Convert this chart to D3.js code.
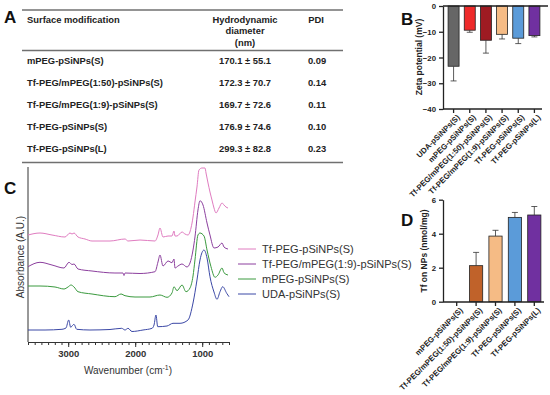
<!DOCTYPE html>
<html><head><meta charset="utf-8">
<script src="https://cdn.jsdelivr.net/npm/d3@7"></script>
<style>body{margin:0;background:#fff;} svg{display:block;font-family:Arial,"Liberation Sans",sans-serif;}</style>
</head><body><svg id="c" width="550" height="395"></svg>
<script>
// ---------- Panel A: table ----------
const surfaceMods = ["mPEG-pSiNPs(S)","Tf-PEG/mPEG(1:50)-pSiNPs(S)","Tf-PEG/mPEG(1:9)-pSiNPs(S)","Tf-PEG-pSiNPs(S)","Tf-PEG-pSiNPs(L)"];
const diamMean = ["170.1","172.3","169.7","176.9","299.3"];
const diamSD = ["55.1","70.7","72.6","74.6","82.8"];
const pdiValues = ["0.09","0.14","0.11","0.10","0.23"];

// ---------- Panel B: zeta potential ----------
const zetaCats = ["UDA-pSiNPs(S)","mPEG-pSiNPs(S)","Tf-PEG/mPEG(1:50)-pSiNPs(S)","Tf-PEG/mPEG(1:9)-pSiNPs(S)","Tf-PEG-pSiNPs(S)","Tf-PEG-pSiNPs(L)"];
const zetaMean = [-23.4, -9.4, -13.3, -11.0, -12.5, -11.5];
const zetaSD = [5.7, 0.8, 5.0, 1.8, 2.1, 0.5];
const zetaColors = ["#666666","#ee2a2a","#9e1b22","#f5bb85","#5b9bd9","#7030a0"];
const zetaTicks = [0,-10,-20,-30,-40];

// ---------- Panel D: Tf on NPs ----------
const tfCats = ["mPEG-pSiNPs(S)","Tf-PEG/mPEG(1:50)-pSiNPs(S)","Tf-PEG/mPEG(1:9)-pSiNPs(S)","Tf-PEG-pSiNPs(S)","Tf-PEG-pSiNPs(L)"];
const tfMean = [0, 2.12, 3.86, 4.96, 5.1];
const tfSD = [0, 0.78, 0.34, 0.29, 0.5];
const tfColors = ["#ee2a2a","#c0622a","#f5bb85","#5b9bd9","#7030a0"];
const tfTicks = [0,2,4,6];

// ---------- Panel C: FTIR spectra [wavenumber, absorbance A.U.] ----------
const specTfPEG = [[3600,1.07],[3421,1.09],[3242,1.07],[3048,1.05],[2973,1.09],[2943,1.08],[2913,1.09],[2854,1.05],[2749,1.03],[2645,1.01],[2376,1.01],[2152,1.03],[2107,1.01],[1928,1.02],[1704,1.01],[1660,1.07],[1630,1.14],[1585,1.05],[1510,1.06],[1451,1.06],[1421,1.11],[1406,1.06],[1376,1.06],[1301,1.10],[1257,1.08],[1212,1.07],[1167,1.14],[1137,1.25],[1108,1.40],[1078,1.55],[1048,1.72],[1003,1.74],[958,1.74],[943,1.69],[913,1.59],[884,1.50],[854,1.42],[824,1.34],[794,1.29],[749,1.34],[704,1.39],[675,1.37],[645,1.35],[615,1.34]];
const specTfmPEG19 = [[3600,0.753],[3421,0.797],[3242,0.77],[3063,0.74],[2988,0.797],[2943,0.775],[2913,0.78],[2854,0.73],[2645,0.71],[2302,0.69],[2182,0.69],[2167,0.665],[2152,0.69],[1928,0.685],[1704,0.703],[1660,0.80],[1630,0.87],[1585,0.76],[1510,0.81],[1451,0.793],[1421,0.83],[1406,0.74],[1361,0.76],[1301,0.78],[1227,0.75],[1182,0.79],[1137,0.92],[1108,1.05],[1063,1.32],[1033,1.413],[988,1.37],[928,1.19],[884,1.07],[824,0.94],[764,0.95],[704,0.99],[675,0.95],[615,0.93]];
const specMPEG = [[3600,0.56],[3421,0.56],[3197,0.55],[3063,0.53],[3003,0.55],[2958,0.57],[2913,0.55],[2854,0.503],[2645,0.48],[2302,0.453],[2212,0.48],[2152,0.463],[2003,0.45],[1779,0.45],[1630,0.47],[1525,0.447],[1451,0.49],[1421,0.553],[1376,0.513],[1301,0.57],[1242,0.503],[1182,0.54],[1137,0.66],[1108,0.82],[1063,1.07],[1033,1.09],[973,1.06],[928,0.92],[869,0.753],[809,0.647],[764,0.67],[704,0.74],[675,0.693],[615,0.67]];
const specUDA = [[3600,0.12],[3346,0.12],[3093,0.127],[3033,0.14],[2993,0.22],[2963,0.147],[2943,0.16],[2913,0.177],[2873,0.127],[2675,0.12],[2376,0.125],[2202,0.137],[2152,0.12],[2107,0.137],[2048,0.105],[1884,0.12],[1749,0.137],[1719,0.17],[1690,0.27],[1664,0.153],[1525,0.16],[1436,0.187],[1331,0.187],[1212,0.22],[1137,0.39],[1078,0.62],[1033,0.82],[973,0.92],[928,0.84],[884,0.653],[824,0.50],[779,0.427],[734,0.503],[694,0.553],[634,0.487],[600,0.453]];
const specNames = ["Tf-PEG-pSiNPs(S)","Tf-PEG/mPEG(1:9)-pSiNPs(S)","mPEG-pSiNPs(S)","UDA-pSiNPs(S)"];
const specColors = ["#e07cc0","#8c3f9e","#3a9a3e","#3b48a6"];
const irTicks = [3000,2000,1000];

const svg = d3.select("#c");
svg.append("rect").attr("width",550).attr("height",395).attr("fill","#fff");
const FF = "Arial,'Liberation Sans',sans-serif";

function panelLabel(t,x,y){
  svg.append("text").attr("x",x).attr("y",y).attr("font-size",17).attr("font-weight","bold").attr("fill","#111").text(t);
}

// ===== A =====
panelLabel("A",4,23);
const tA = svg.append("g").attr("font-size",9.4).attr("font-weight","bold").attr("fill","#222");
[10,50.5,162.5].forEach(y=>tA.append("line").attr("x1",22).attr("x2",343).attr("y1",y).attr("y2",y).attr("stroke","#707070").attr("stroke-width",1.5));
tA.append("text").attr("x",27).attr("y",22.5).text("Surface modification");
["Hydrodynamic","diameter","(nm)"].forEach((s,i)=>tA.append("text").attr("x",245).attr("y",22.5+i*11.5).attr("text-anchor","middle").text(s));
tA.append("text").attr("x",316).attr("y",22.5).attr("text-anchor","middle").text("PDI");
const rowY = d3.scalePoint().domain(surfaceMods).range([63.5,152]);
surfaceMods.forEach((m,i)=>{
  tA.append("text").attr("x",27).attr("y",rowY(m)).text(m);
  tA.append("text").attr("x",245).attr("y",rowY(m)).attr("text-anchor","middle").text(diamMean[i]+" \u00b1 "+diamSD[i]);
  tA.append("text").attr("x",317).attr("y",rowY(m)).attr("text-anchor","middle").text(pdiValues[i]);
});

function styleAxis(a){
  a.selectAll("path,line").attr("stroke","#222").attr("stroke-width",1.3);
  a.selectAll("text").attr("font-size",7.8).attr("font-weight","bold").attr("fill","#222").attr("font-family",FF);
}
function rotateLabels(a){
  a.selectAll("text").attr("text-anchor","end").attr("transform","translate(3,3) rotate(-45)").attr("dy","0.35em").attr("dx","-0.2em").attr("y",4);
}

// ===== B =====
panelLabel("B",401,25);
const xB = d3.scaleBand().domain(zetaCats).range([445.5,542.5]).paddingInner(0.32).paddingOuter(0.16);
const yB = d3.scaleLinear().domain([-40,0]).range([109,6]);
const gB = svg.append("g");
gB.selectAll("rect.bar").data(zetaCats).join("rect")
  .attr("x",d=>xB(d)).attr("width",xB.bandwidth())
  .attr("y",yB(0)).attr("height",(d,i)=>yB(zetaMean[i])-yB(0))
  .attr("fill",(d,i)=>zetaColors[i]).attr("stroke","#222").attr("stroke-width",0.8);
zetaCats.forEach((d,i)=>{
  const cx = xB(d)+xB.bandwidth()/2;
  gB.append("line").attr("x1",cx).attr("x2",cx).attr("y1",yB(zetaMean[i])).attr("y2",yB(zetaMean[i]-zetaSD[i])).attr("stroke","#333").attr("stroke-width",0.8);
  gB.append("line").attr("x1",cx-3).attr("x2",cx+3).attr("y1",yB(zetaMean[i]-zetaSD[i])).attr("y2",yB(zetaMean[i]-zetaSD[i])).attr("stroke","#333").attr("stroke-width",0.8);
});
gB.append("line").attr("x1",443).attr("x2",548).attr("y1",yB(0)).attr("y2",yB(0)).attr("stroke","#222").attr("stroke-width",1.3);
const axBy = gB.append("g").attr("transform","translate(443,0)").call(d3.axisLeft(yB).tickValues(zetaTicks).tickSize(4).tickSizeOuter(0).tickFormat(d3.format("d")));
const axBx = gB.append("g").attr("transform","translate(0,109)").call(d3.axisBottom(xB).tickSize(4).tickSizeOuter(0));
axBx.select(".domain").attr("d","M443,0H542");
styleAxis(axBy); styleAxis(axBx); rotateLabels(axBx);
gB.append("text").attr("transform","translate(422,57) rotate(-90)").attr("text-anchor","middle").attr("font-size",8.5).attr("font-weight","bold").attr("fill","#222").text("Zeta potential (mV)");

// ===== C =====
panelLabel("C",4,194);
const xC = d3.scaleLinear().domain([3600,600]).range([28,229]);
const yC = d3.scaleLinear().domain([0,1.75]).range([342,167]);
const gC = svg.append("g");
gC.append("line").attr("x1",28).attr("x2",28).attr("y1",167).attr("y2",342).attr("stroke","#333").attr("stroke-width",1);
const minorC = d3.range(3600,599,-100);
gC.append("g").attr("transform","translate(0,342)").call(d3.axisBottom(xC).tickValues(minorC).tickSize(3).tickFormat("").tickSizeOuter(0))
  .call(g=>g.selectAll("path,line").attr("stroke","#333"));
const axC = gC.append("g").attr("transform","translate(0,342)").call(d3.axisBottom(xC).tickValues(irTicks).tickSize(5).tickFormat(d3.format("d")).tickSizeOuter(0));
axC.selectAll("path,line").attr("stroke","#333");
axC.selectAll("text").attr("font-size",9.5).attr("font-weight","bold").attr("fill","#333").attr("font-family",FF).attr("y",8);
const xl = gC.append("text").attr("x",128).attr("y",374).attr("text-anchor","middle").attr("font-size",10).attr("fill","#333");
xl.append("tspan").text("Wavenumber (cm");
xl.append("tspan").attr("dy",-4).attr("font-size",7).text("-1");
xl.append("tspan").attr("dy",4).text(")");
gC.append("text").attr("transform","translate(24,257) rotate(-90)").attr("text-anchor","middle").attr("font-size",10).attr("fill","#333").text("Absorbance (A.U.)");
const lineC = d3.line().x(d=>xC(d[0])).y(d=>yC(d[1])).curve(d3.curveMonotoneX);
[specTfPEG,specTfmPEG19,specMPEG,specUDA].forEach((s,i)=>{
  gC.append("path").attr("d",lineC(s)).attr("fill","none").attr("stroke",specColors[i]).attr("stroke-width",1);
});
const legY = d3.scalePoint().domain(specNames).range([249,294]);
specNames.forEach((n,i)=>{
  gC.append("line").attr("x1",238).attr("x2",256).attr("y1",legY(n)).attr("y2",legY(n)).attr("stroke",specColors[i]).attr("stroke-width",1);
  gC.append("text").attr("x",262).attr("y",legY(n)).attr("dy","0.35em").attr("font-size",11).attr("fill","#333").text(n);
});

// ===== D =====
panelLabel("D",401,226);
const xD = d3.scaleBand().domain(tfCats).range([447,544]).paddingInner(0.32).paddingOuter(0.16);
const yD = d3.scaleLinear().domain([0,6]).range([301.7,199.7]);
const gD = svg.append("g");
gD.selectAll("rect.bar").data(tfCats).join("rect")
  .attr("x",d=>xD(d)).attr("width",xD.bandwidth())
  .attr("y",(d,i)=>yD(tfMean[i])).attr("height",(d,i)=>yD(0)-yD(tfMean[i]))
  .attr("fill",(d,i)=>tfColors[i]).attr("stroke",(d,i)=>tfMean[i]>0?"#222":"none").attr("stroke-width",0.8);
tfCats.forEach((d,i)=>{
  if(tfSD[i]<=0) return;
  const cx = xD(d)+xD.bandwidth()/2;
  gD.append("line").attr("x1",cx).attr("x2",cx).attr("y1",yD(tfMean[i])).attr("y2",yD(tfMean[i]+tfSD[i])).attr("stroke","#333").attr("stroke-width",0.8);
  gD.append("line").attr("x1",cx-3).attr("x2",cx+3).attr("y1",yD(tfMean[i]+tfSD[i])).attr("y2",yD(tfMean[i]+tfSD[i])).attr("stroke","#333").attr("stroke-width",0.8);
});
const axDy = gD.append("g").attr("transform","translate(443,0)").call(d3.axisLeft(yD).tickValues(tfTicks).tickSize(4).tickSizeOuter(0).tickFormat(d3.format("d")));
const axDx = gD.append("g").attr("transform","translate(0,302)").call(d3.axisBottom(xD).tickSize(4).tickSizeOuter(0));
axDx.select(".domain").attr("d","M443,0H544");
styleAxis(axDy); styleAxis(axDx); rotateLabels(axDx);
gD.append("text").attr("transform","translate(427,251) rotate(-90)").attr("text-anchor","middle").attr("font-size",8.5).attr("font-weight","bold").attr("fill","#222").text("Tf on NPs (nmol/mg)");
</script></body></html>
